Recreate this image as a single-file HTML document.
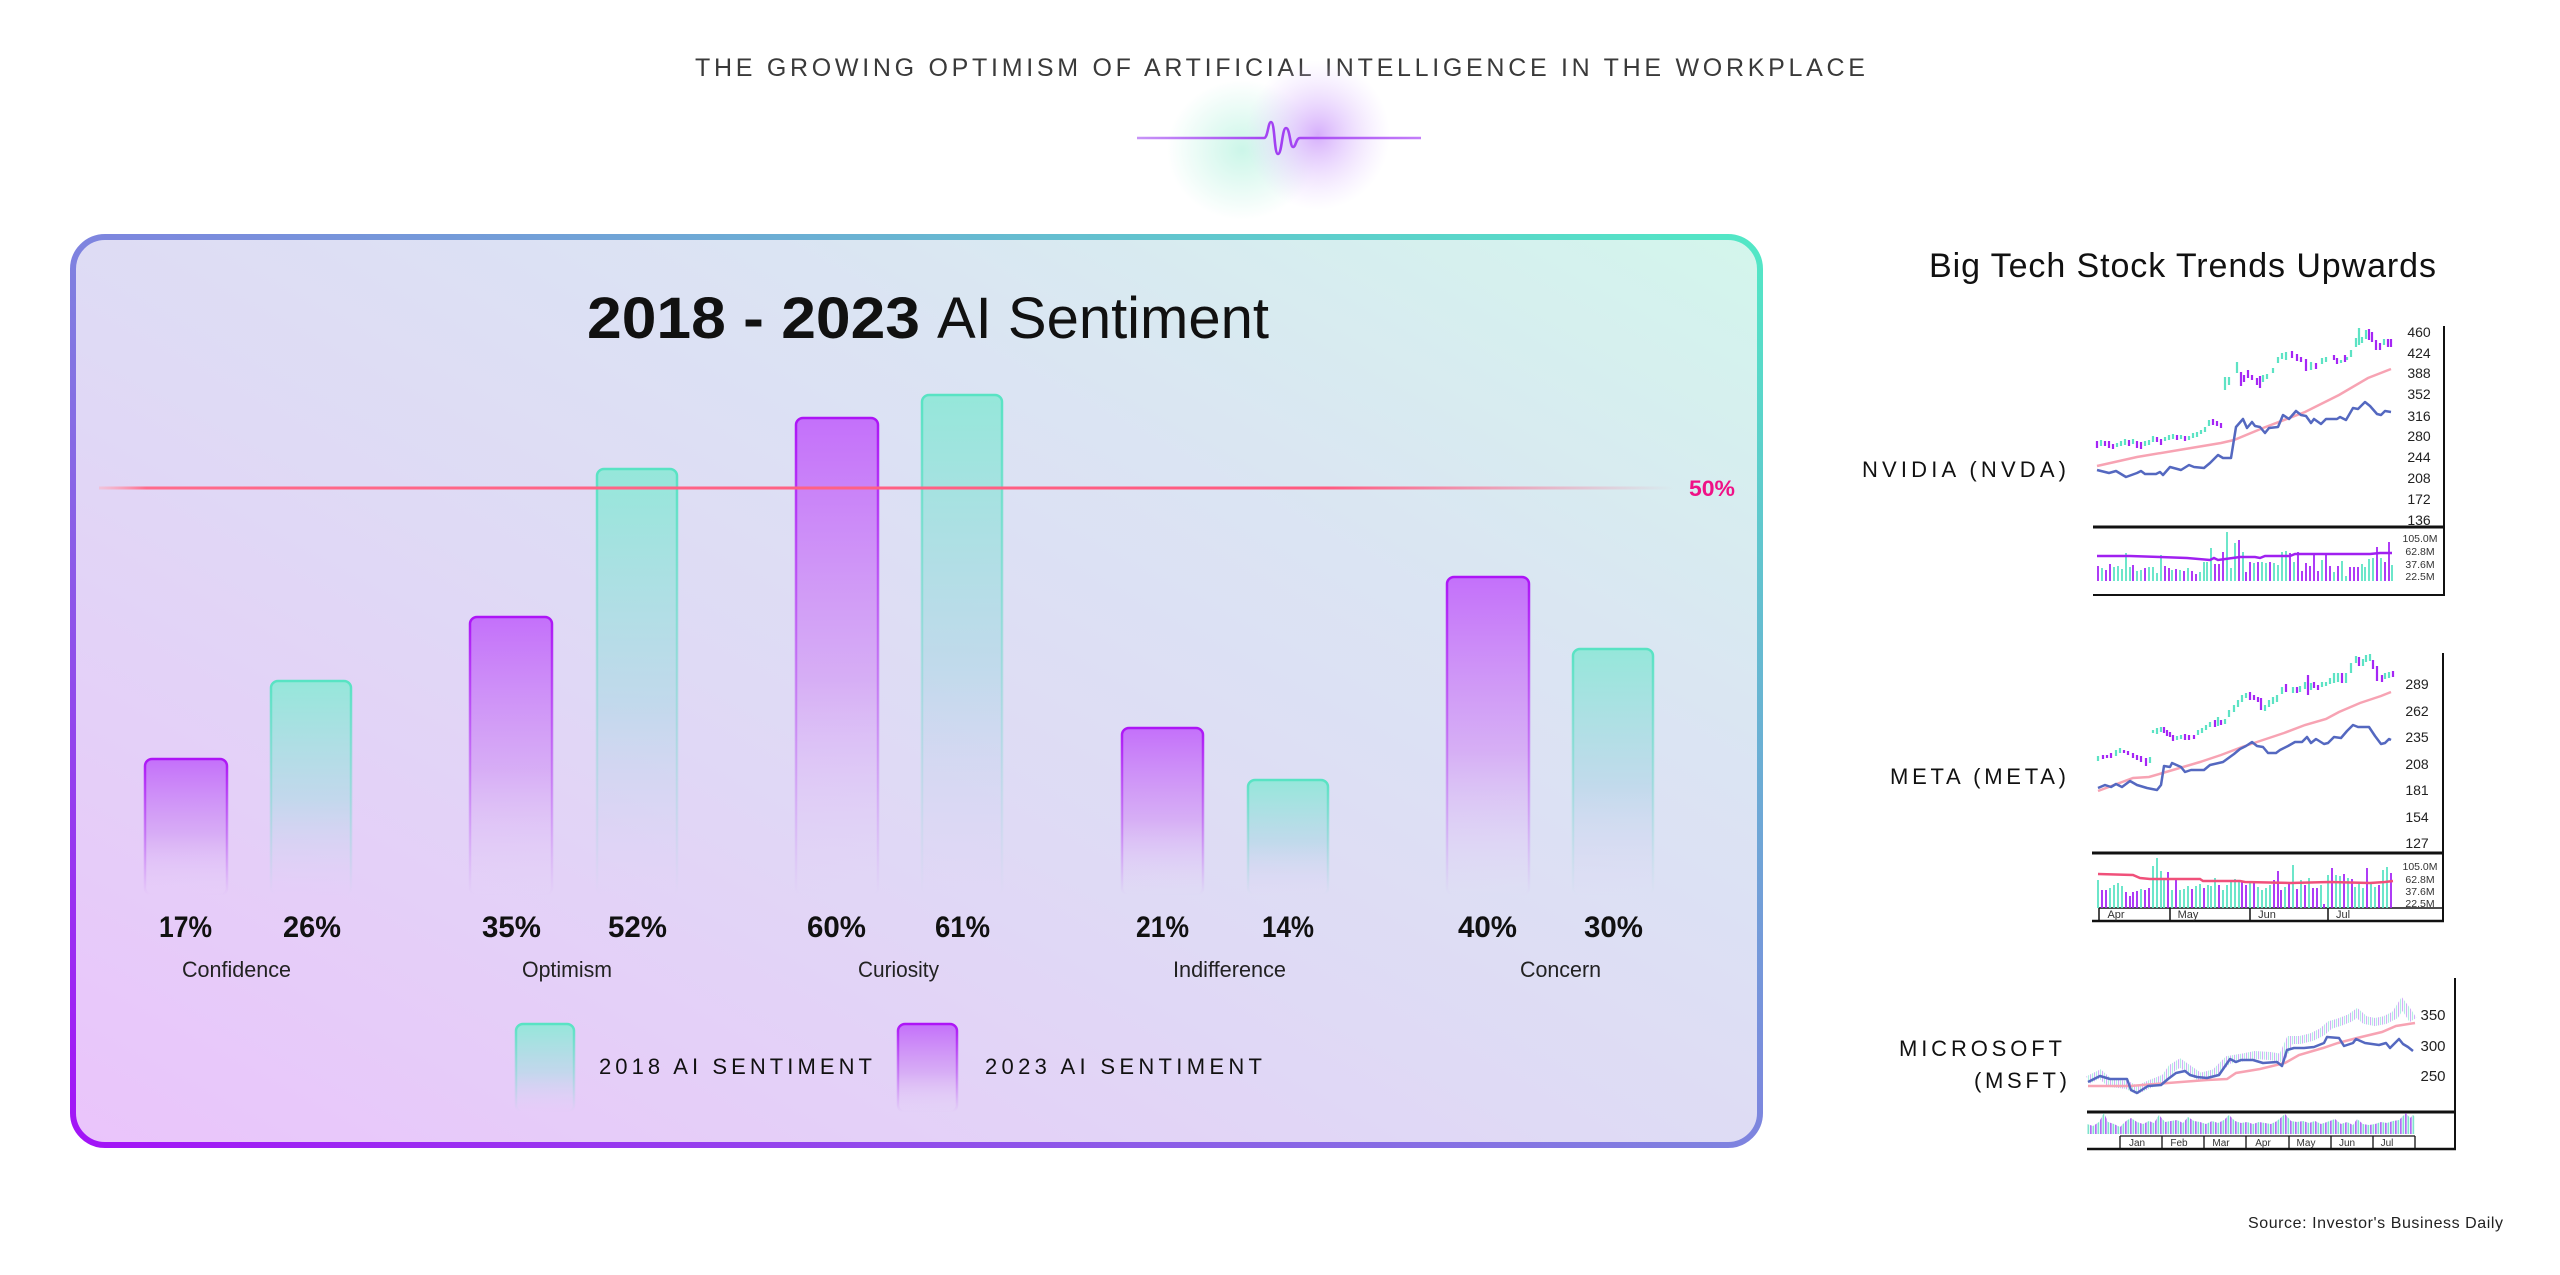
<!DOCTYPE html>
<html><head><meta charset="utf-8">
<style>
html,body{margin:0;padding:0;background:#fff;width:2560px;height:1275px;overflow:hidden}
svg{display:block}
text{font-family:"Liberation Sans",Arial,sans-serif}
</style></head>
<body>
<svg width="2560" height="1275" viewBox="0 0 2560 1275" xmlns="http://www.w3.org/2000/svg">
<defs>
  <linearGradient id="boxFill" x1="0" y1="1" x2="1" y2="0">
    <stop offset="0" stop-color="#eac4fb"/>
    <stop offset="0.45" stop-color="#dfdaf5"/>
    <stop offset="0.7" stop-color="#dbe4f3"/>
    <stop offset="1" stop-color="#d3f6ec"/>
  </linearGradient>
  <linearGradient id="boxStroke" x1="0" y1="1" x2="1" y2="0">
    <stop offset="0" stop-color="#a313f7"/>
    <stop offset="0.5" stop-color="#7e84df"/>
    <stop offset="1" stop-color="#52e8c5"/>
  </linearGradient>
  <linearGradient id="pFill" x1="0" y1="0" x2="0" y2="1">
    <stop offset="0" stop-color="#c470fa" stop-opacity="1"/>
    <stop offset="0.55" stop-color="#d5a6f5" stop-opacity="0.85"/>
    <stop offset="1" stop-color="#e6cdf8" stop-opacity="0"/>
  </linearGradient>
  <linearGradient id="tFill" x1="0" y1="0" x2="0" y2="1">
    <stop offset="0" stop-color="#95e7da" stop-opacity="1"/>
    <stop offset="0.55" stop-color="#bcd9ea" stop-opacity="0.85"/>
    <stop offset="1" stop-color="#dcd2f5" stop-opacity="0"/>
  </linearGradient>
  <linearGradient id="pStroke" x1="0" y1="0" x2="0" y2="1">
    <stop offset="0" stop-color="#ad14f6" stop-opacity="1"/>
    <stop offset="0.6" stop-color="#bb55f4" stop-opacity="0.55"/>
    <stop offset="1" stop-color="#bb55f4" stop-opacity="0"/>
  </linearGradient>
  <linearGradient id="tStroke" x1="0" y1="0" x2="0" y2="1">
    <stop offset="0" stop-color="#58e3c3" stop-opacity="1"/>
    <stop offset="0.6" stop-color="#7fd9d0" stop-opacity="0.45"/>
    <stop offset="1" stop-color="#7fd9d0" stop-opacity="0"/>
  </linearGradient>
  <linearGradient id="line50" x1="0" y1="0" x2="1" y2="0">
    <stop offset="0" stop-color="#ffb0c0" stop-opacity="0.5"/>
    <stop offset="0.03" stop-color="#ff6a8a"/>
    <stop offset="0.78" stop-color="#ff5a80"/>
    <stop offset="1" stop-color="#ff5a80" stop-opacity="0"/>
  </linearGradient>
  <radialGradient id="glowT">
    <stop offset="0" stop-color="#c6f5e6" stop-opacity="0.9"/>
    <stop offset="1" stop-color="#c6f5e6" stop-opacity="0"/>
  </radialGradient>
  <radialGradient id="glowP">
    <stop offset="0" stop-color="#d6affb" stop-opacity="1"/>
    <stop offset="1" stop-color="#e8d4ff" stop-opacity="0"/>
  </radialGradient>
  <linearGradient id="waveGrad" x1="0" y1="0" x2="1" y2="0">
    <stop offset="0" stop-color="#c794f7"/>
    <stop offset="0.5" stop-color="#a13ef2"/>
    <stop offset="1" stop-color="#c37ff9"/>
  </linearGradient>
  <pattern id="vstripe" patternUnits="userSpaceOnUse" width="5" height="10">
    <rect x="0" y="0" width="1.7" height="10" fill="#b46cf5"/>
    <rect x="2.5" y="0" width="1.7" height="10" fill="#7fe3cc"/>
  </pattern>
  <pattern id="cstripe" patternUnits="userSpaceOnUse" width="4" height="10">
    <rect x="0" y="0" width="1.1" height="10" fill="#8fe8d2"/>
    <rect x="2" y="0" width="1.1" height="10" fill="#c08af7"/>
  </pattern>
</defs>

<!-- Header -->
<text x="695" y="76" font-size="25" fill="#3a3a3a" textLength="1170" lengthAdjust="spacing">THE GROWING OPTIMISM OF ARTIFICIAL INTELLIGENCE IN THE WORKPLACE</text>
<ellipse cx="1242" cy="150" rx="75" ry="70" fill="url(#glowT)"/>
<ellipse cx="1318" cy="135" rx="72" ry="75" fill="url(#glowP)"/>
<path d="M1137 138 L1264 138 C1268 138 1268 122 1271 122 C1275 122 1274 154 1278 154 C1282 154 1282 128 1286 128 C1290 128 1290 147 1293 147 C1296 147 1296 138 1300 138 L1421 138" fill="none" stroke="url(#waveGrad)" stroke-width="2.6"/>

<!-- Main box -->
<rect x="73" y="237" width="1687" height="908" rx="32" fill="url(#boxFill)" stroke="url(#boxStroke)" stroke-width="6"/>

<text x="587" y="338" font-size="58" font-weight="bold" fill="#111" textLength="333" lengthAdjust="spacingAndGlyphs">2018 - 2023</text>
<text x="937" y="338" font-size="58" fill="#111" textLength="332" lengthAdjust="spacing">AI Sentiment</text>

<!-- Bars -->
<g stroke-width="2.5">
  <rect x="145" y="759" width="82" height="136" rx="7" fill="url(#pFill)" stroke="url(#pStroke)"/>
  <rect x="271" y="681" width="80" height="214" rx="7" fill="url(#tFill)" stroke="url(#tStroke)"/>
  <rect x="470" y="617" width="82" height="278" rx="7" fill="url(#pFill)" stroke="url(#pStroke)"/>
  <rect x="597" y="469" width="80" height="426" rx="7" fill="url(#tFill)" stroke="url(#tStroke)"/>
  <rect x="796" y="418" width="82" height="477" rx="7" fill="url(#pFill)" stroke="url(#pStroke)"/>
  <rect x="922" y="395" width="80" height="500" rx="7" fill="url(#tFill)" stroke="url(#tStroke)"/>
  <rect x="1122" y="728" width="81" height="167" rx="7" fill="url(#pFill)" stroke="url(#pStroke)"/>
  <rect x="1248" y="780" width="80" height="115" rx="7" fill="url(#tFill)" stroke="url(#tStroke)"/>
  <rect x="1447" y="577" width="82" height="318" rx="7" fill="url(#pFill)" stroke="url(#pStroke)"/>
  <rect x="1573" y="649" width="80" height="246" rx="7" fill="url(#tFill)" stroke="url(#tStroke)"/>
</g>

<!-- 50% line -->
<rect x="99" y="486.5" width="1575" height="3" fill="url(#line50)"/>
<text x="1689" y="496" font-size="22" font-weight="bold" fill="#ef1186" textLength="46" lengthAdjust="spacingAndGlyphs">50%</text>

<!-- Percent labels -->
<g font-size="30" font-weight="bold" fill="#111">
  <text x="159" y="937" textLength="53" lengthAdjust="spacingAndGlyphs">17%</text>
  <text x="283" y="937" textLength="58" lengthAdjust="spacingAndGlyphs">26%</text>
  <text x="482" y="937" textLength="59" lengthAdjust="spacingAndGlyphs">35%</text>
  <text x="608" y="937" textLength="59" lengthAdjust="spacingAndGlyphs">52%</text>
  <text x="807" y="937" textLength="59" lengthAdjust="spacingAndGlyphs">60%</text>
  <text x="935" y="937" textLength="55" lengthAdjust="spacingAndGlyphs">61%</text>
  <text x="1136" y="937" textLength="53" lengthAdjust="spacingAndGlyphs">21%</text>
  <text x="1262" y="937" textLength="52" lengthAdjust="spacingAndGlyphs">14%</text>
  <text x="1458" y="937" textLength="59" lengthAdjust="spacingAndGlyphs">40%</text>
  <text x="1584" y="937" textLength="59" lengthAdjust="spacingAndGlyphs">30%</text>
</g>
<g font-size="22" fill="#222">
  <text x="182" y="977" textLength="109" lengthAdjust="spacingAndGlyphs">Confidence</text>
  <text x="522" y="977" textLength="90" lengthAdjust="spacingAndGlyphs">Optimism</text>
  <text x="858" y="977" textLength="81" lengthAdjust="spacingAndGlyphs">Curiosity</text>
  <text x="1173" y="977" textLength="113" lengthAdjust="spacingAndGlyphs">Indifference</text>
  <text x="1520" y="977" textLength="81" lengthAdjust="spacingAndGlyphs">Concern</text>
</g>

<!-- Legend -->
<rect x="516" y="1024" width="58" height="88" rx="7" fill="url(#tFill)" stroke="url(#tStroke)" stroke-width="2.5"/>
<text x="599" y="1074" font-size="22" fill="#111" textLength="273" lengthAdjust="spacing">2018 AI SENTIMENT</text>
<rect x="898" y="1024" width="59" height="88" rx="7" fill="url(#pFill)" stroke="url(#pStroke)" stroke-width="2.5"/>
<text x="985" y="1074" font-size="22" fill="#111" textLength="277" lengthAdjust="spacing">2023 AI SENTIMENT</text>

<!-- Right side -->
<text x="1929" y="277" font-size="34" fill="#111" textLength="507" lengthAdjust="spacing">Big Tech Stock Trends Upwards</text>

<!-- NVDA -->
<text x="1862" y="477" font-size="22" fill="#111" textLength="204" lengthAdjust="spacing">NVIDIA (NVDA)</text>
<g stroke="#111" fill="none">
  <line x1="2444" y1="326" x2="2444" y2="595" stroke-width="2"/>
  <line x1="2093" y1="527" x2="2445" y2="527" stroke-width="3"/>
  <line x1="2093" y1="595" x2="2445" y2="595" stroke-width="2"/>
</g>
<g font-size="14" fill="#222" text-anchor="middle">
  <text x="2419" y="337">460</text><text x="2419" y="358">424</text><text x="2419" y="378">388</text>
  <text x="2419" y="399">352</text><text x="2419" y="421">316</text><text x="2419" y="441">280</text>
  <text x="2419" y="462">244</text><text x="2419" y="483">208</text><text x="2419" y="504">172</text>
  <text x="2419" y="525">136</text>
</g>
<g font-size="10.5" fill="#333" text-anchor="middle">
  <text x="2420" y="542">105.0M</text><text x="2420" y="555">62.8M</text>
  <text x="2420" y="568">37.6M</text><text x="2420" y="580">22.5M</text>
</g>
<path d="M2101 440V446M2117 443V447M2121 441V446M2125 439V445M2133 439V444M2145 441V446M2149 440V445M2153 436V442M2165 437V441M2169 435V440M2173 434V439M2181 435V439M2189 436V440M2193 433V438M2197 432V437M2201 430V434M2205 427V432M2209 420V426M2225 377V390M2229 377V385M2237 362V373M2263 375V382M2267 374V379M2273 368V373M2278 357V363M2282 353V359M2286 352V360M2311 362V370M2322 358V364M2326 357V362M2341 360V363M2347 357V360M2351 350V357M2356 338V347M2359 328V345M2362 337V343M2366 330V339M2384 339V345" stroke="#5de3c4" stroke-width="2.2" fill="none"/>
<path d="M2097 441V448M2105 441V446M2109 441V448M2113 444V449M2129 440V446M2137 441V448M2141 442V449M2157 437V442M2161 439V445M2177 435V440M2185 436V441M2213 419V425M2217 421V426M2221 423V428M2241 372V386M2244 375V382M2248 370V378M2252 375V380M2257 378V385M2260 376V388M2292 351V358M2297 354V361M2301 357V362M2306 359V371M2316 363V369M2334 355V360M2337 358V364M2345 355V362M2369 329V340M2372 332V342M2376 340V350M2380 343V350M2388 339V347M2391 339V347" stroke="#a526f5" stroke-width="2.2" fill="none"/>
<path d="M2097 466 L2137 457 L2179 450 L2221 443 L2234 440 L2263 428 L2305 412 L2339 395 L2368 378 L2391 369" stroke="#f7a3b3" stroke-width="2.5" fill="none"/>
<path d="M2097 470 L2109 473 L2116 471 L2126 477 L2137 473 L2141 471 L2145 474 L2156 474 L2160 472 L2163 475 L2170 467 L2181 470 L2189 465 L2194 467 L2204 468 L2210 463 L2218 455 L2223 458 L2231 458 L2236 427 L2243 419 L2247 428 L2252 422 L2255 426 L2260 427 L2265 433 L2269 428 L2278 427 L2283 415 L2289 419 L2296 411 L2301 415 L2306 416 L2311 423 L2314 419 L2321 424 L2326 419 L2337 419 L2340 417 L2346 420 L2353 408 L2358 409 L2365 402 L2370 406 L2377 414 L2381 415 L2385 411 L2391 412" stroke="#5468c0" stroke-width="2.5" fill="none" stroke-linejoin="round"/>
<path d="M2102 581V568M2114 581V567M2118 581V566M2122 581V569M2126 581V553M2130 581V567M2137 581V571M2141 581V570M2149 581V567M2153 581V567M2157 581V573M2161 581V555M2172 581V570M2180 581V570M2188 581V568M2200 581V572M2204 581V562M2207 581V562M2211 581V548M2227 581V532M2231 581V568M2235 581V543M2243 581V552M2254 581V563M2262 581V562M2266 581V563M2274 581V563M2278 581V565M2282 581V552M2286 581V551M2294 581V562M2322 581V560M2334 581V572M2342 581V561M2346 581V576M2362 581V564M2365 581V567M2369 581V559M2373 581V558M2381 581V558M2392 581V565" stroke="#5de3c4" stroke-width="1.8" fill="none"/>
<path d="M2098 581V566M2106 581V570M2110 581V564M2133 581V565M2145 581V568M2165 581V566M2169 581V568M2176 581V569M2184 581V571M2192 581V571M2196 581V574M2215 581V564M2219 581V564M2223 581V552M2239 581V540M2246 581V572M2250 581V562M2258 581V562M2270 581V562M2290 581V553M2298 581V552M2302 581V571M2306 581V563M2310 581V566M2314 581V553M2318 581V571M2326 581V553M2330 581V566M2338 581V566M2350 581V567M2354 581V567M2358 581V567M2377 581V547M2385 581V562M2389 581V542" stroke="#a526f5" stroke-width="1.8" fill="none"/>
<path d="M2097 556 L2130 556 L2160 557 L2187 558 L2210 560 L2214 558 L2218 560 L2240 557 L2255 557 L2260 558 L2265 556 L2290 556 L2295 554 L2370 554 L2380 553 L2392 553" stroke="#a020f0" stroke-width="2.5" fill="none"/>

<!-- META -->
<text x="1890" y="784" font-size="22" fill="#111" textLength="176" lengthAdjust="spacing">META (META)</text>
<g stroke="#111" fill="none">
  <line x1="2443" y1="653" x2="2443" y2="921" stroke-width="2"/>
  <line x1="2092" y1="853" x2="2444" y2="853" stroke-width="3"/>
  <line x1="2099" y1="908" x2="2443" y2="908" stroke-width="1.5"/>
  <line x1="2092" y1="921" x2="2444" y2="921" stroke-width="2.5"/>
  <path d="M2099 908V921M2170 908V921M2250 908V921M2328 908V921" stroke-width="1.5"/>
</g>
<g font-size="14" fill="#222" text-anchor="middle">
  <text x="2417" y="689">289</text><text x="2417" y="716">262</text><text x="2417" y="742">235</text>
  <text x="2417" y="769">208</text><text x="2417" y="795">181</text><text x="2417" y="822">154</text>
  <text x="2417" y="848">127</text>
</g>
<g font-size="10.5" fill="#333" text-anchor="middle">
  <text x="2420" y="870">105.0M</text><text x="2420" y="883">62.8M</text>
  <text x="2420" y="895">37.6M</text><text x="2420" y="907">22.5M</text>
</g>
<g font-size="11" fill="#333" text-anchor="middle">
  <text x="2116" y="918">Apr</text><text x="2188" y="918">May</text><text x="2267" y="918">Jun</text><text x="2343" y="918">Jul</text>
</g>
<path d="M2098 756V761M2116 750V756M2120 748V753M2150 757V763M2153 730V733M2157 728V734M2161 727V732M2177 736V740M2181 735V739M2198 730V735M2202 728V733M2206 725V730M2210 722V727M2218 717V726M2225 719V724M2229 710V717M2234 705V712M2238 700V707M2242 695V702M2246 693V698M2265 705V711M2269 700V707M2273 697V704M2277 695V702M2282 687V694M2293 687V693M2300 686V692M2305 682V689M2311 683V690M2322 682V687M2326 682V686M2330 678V684M2334 673V683M2338 673V682M2346 673V683M2351 663V673M2356 656V663M2363 659V666M2366 655V662M2370 654V661M2385 673V679M2389 672V678" stroke="#5de3c4" stroke-width="2.2" fill="none"/>
<path d="M2103 755V759M2107 755V758M2111 753V758M2124 750V753M2128 751V755M2133 753V758M2137 755V760M2141 756V762M2146 758V766M2164 727V733M2167 730V736M2170 732V737M2173 735V741M2185 734V740M2189 735V740M2194 735V739M2215 720V727M2221 720V725M2250 692V700M2254 695V700M2258 697V702M2261 698V710M2286 684V692M2297 687V693M2308 675V695M2314 682V688M2318 685V690M2342 673V683M2359 657V666M2373 660V669M2377 666V681M2382 675V682M2393 671V677" stroke="#a526f5" stroke-width="2.2" fill="none"/>
<path d="M2098 791 L2133 778 L2149 777 L2166 772 L2200 762 L2221 755 L2242 747 L2263 740 L2284 733 L2305 725 L2326 719 L2339 712 L2360 703 L2381 696 L2391 692" stroke="#f7a3b3" stroke-width="2.5" fill="none"/>
<path d="M2098 788 L2105 785 L2111 787 L2116 784 L2122 787 L2130 781 L2137 785 L2147 788 L2157 790 L2161 785 L2164 766 L2170 767 L2172 763 L2181 767 L2185 772 L2191 770 L2204 770 L2210 765 L2223 762 L2234 754 L2240 749 L2246 746 L2252 742 L2257 746 L2263 747 L2268 753 L2276 753 L2280 750 L2288 746 L2295 742 L2302 742 L2307 737 L2311 743 L2316 739 L2324 744 L2328 743 L2334 737 L2341 738 L2347 731 L2353 725 L2358 727 L2369 727 L2375 736 L2381 744 L2385 743 L2389 739 L2391 740" stroke="#5468c0" stroke-width="2.5" fill="none" stroke-linejoin="round"/>
<path d="M2098 908V880M2110 908V888M2114 908V885M2118 908V883M2122 908V886M2141 908V889M2153 908V866M2157 908V858M2161 908V871M2164 908V878M2172 908V890M2180 908V890M2184 908V889M2188 908V886M2196 908V886M2200 908V884M2208 908V885M2211 908V886M2215 908V878M2223 908V890M2227 908V885M2231 908V880M2235 908V879M2239 908V882M2250 908V883M2258 908V887M2262 908V890M2266 908V888M2270 908V885M2285 908V887M2293 908V865M2301 908V880M2309 908V878M2321 908V885M2328 908V875M2336 908V875M2340 908V876M2348 908V878M2355 908V887M2359 908V882M2363 908V888M2371 908V882M2375 908V887M2383 908V870M2387 908V867" stroke="#5de3c4" stroke-width="1.8" fill="none"/>
<path d="M2102 908V890M2106 908V890M2126 908V892M2130 908V896M2133 908V892M2137 908V891M2145 908V890M2149 908V888M2168 908V872M2176 908V880M2192 908V889M2204 908V888M2219 908V885M2242 908V882M2246 908V885M2254 908V881M2274 908V880M2278 908V871M2281 908V890M2289 908V884M2297 908V889M2305 908V885M2313 908V888M2317 908V888M2324 908V904M2332 908V868M2344 908V874M2352 908V879M2367 908V868M2379 908V885M2391 908V873" stroke="#a526f5" stroke-width="1.8" fill="none"/>
<path d="M2098 874 L2133 875 L2140 878 L2150 879 L2160 879 L2200 879 L2203 881 L2240 881 L2245 882 L2290 883 L2330 882 L2370 883 L2385 882 L2393 881" stroke="#f0507a" stroke-width="2.5" fill="none"/>

<!-- MSFT -->
<text x="1899" y="1056" font-size="22" fill="#111" textLength="163" lengthAdjust="spacing">MICROSOFT</text>
<text x="1974" y="1088" font-size="22" fill="#111" textLength="93" lengthAdjust="spacing">(MSFT)</text>
<g stroke="#111" fill="none">
  <line x1="2455" y1="978" x2="2455" y2="1150" stroke-width="2"/>
  <line x1="2087" y1="1112" x2="2456" y2="1112" stroke-width="3"/>
  <line x1="2120" y1="1136" x2="2415" y2="1136" stroke-width="1.3"/>
  <line x1="2087" y1="1149" x2="2456" y2="1149" stroke-width="2.5"/>
  <path d="M2120 1136V1149M2162 1136V1149M2204 1136V1149M2246 1136V1149M2289 1136V1149M2331 1136V1149M2373 1136V1149M2415 1136V1149" stroke-width="1.3"/>
</g>
<g font-size="15" fill="#222" text-anchor="middle">
  <text x="2433" y="1020">350</text><text x="2433" y="1051">300</text><text x="2433" y="1081">250</text>
</g>
<g font-size="10" fill="#333" text-anchor="middle">
  <text x="2137" y="1146">Jan</text><text x="2179" y="1146">Feb</text><text x="2221" y="1146">Mar</text>
  <text x="2263" y="1146">Apr</text><text x="2306" y="1146">May</text><text x="2347" y="1146">Jun</text><text x="2387" y="1146">Jul</text>
</g>
<path d="M2088 1080 L2100 1074 L2110 1083 L2127 1085 L2137 1090 L2150 1084 L2165 1078 L2172 1068 L2180 1063 L2190 1070 L2200 1077 L2215 1073 L2228 1060 L2240 1058 L2255 1055 L2270 1056 L2282 1058 L2290 1040 L2300 1040 L2312 1037 L2322 1032 L2330 1025 L2340 1022 L2350 1018 L2357 1013 L2365 1020 L2375 1022 L2385 1020 L2395 1015 L2402 1004 L2408 1012 L2413 1020" stroke="url(#cstripe)" stroke-width="8" fill="none" opacity="0.7"/>
<path d="M2088 1086 L2130 1086 L2168 1083 L2207 1080 L2227 1079 L2236 1073 L2260 1069 L2285 1063 L2299 1055 L2323 1048 L2338 1043 L2357 1038 L2382 1032 L2396 1026 L2415 1023" stroke="#f7a3b3" stroke-width="2.5" fill="none"/>
<path d="M2088 1082 L2100 1076 L2110 1079 L2127 1079 L2131 1090 L2137 1093 L2148 1086 L2161 1085 L2168 1079 L2176 1073 L2185 1071 L2190 1075 L2197 1077 L2207 1078 L2219 1075 L2230 1059 L2236 1062 L2241 1060 L2253 1060 L2263 1063 L2277 1062 L2282 1066 L2287 1050 L2294 1048 L2304 1048 L2314 1047 L2324 1043 L2327 1037 L2339 1038 L2344 1046 L2353 1043 L2356 1039 L2365 1043 L2379 1045 L2386 1043 L2390 1048 L2399 1039 L2403 1044 L2408 1047 L2413 1051" stroke="#5468c0" stroke-width="2.5" fill="none" stroke-linejoin="round"/>
<path d="M2087 1134 L2087 1124 L2093 1126 L2099 1122 L2104 1113 L2108 1122 L2114 1124 L2120 1127 L2126 1121 L2131 1118 L2137 1122 L2143 1124 L2149 1121 L2154 1123 L2159 1115 L2165 1122 L2171 1121 L2177 1120 L2183 1123 L2188 1117 L2194 1121 L2200 1122 L2206 1124 L2212 1121 L2218 1123 L2224 1120 L2229 1115 L2235 1121 L2241 1123 L2247 1122 L2253 1124 L2259 1122 L2265 1123 L2271 1124 L2277 1121 L2285 1114 L2291 1121 L2297 1122 L2303 1121 L2309 1123 L2315 1121 L2321 1124 L2327 1122 L2335 1119 L2341 1124 L2347 1122 L2353 1125 L2357 1119 L2363 1124 L2369 1125 L2375 1124 L2381 1122 L2387 1123 L2393 1121 L2399 1120 L2406 1113 L2410 1118 L2413 1115 L2415 1117 L2415 1134 Z" fill="url(#vstripe)"/>

<text x="2248" y="1228" font-size="16" fill="#222" textLength="255" lengthAdjust="spacing">Source: Investor's Business Daily</text>
</svg>
</body></html>
